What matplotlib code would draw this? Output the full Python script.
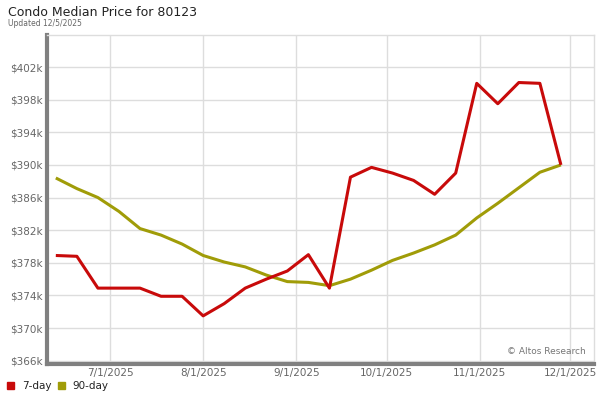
import matplotlib.pyplot as plt
import matplotlib.dates as mdates
import numpy as np
import pandas as pd

# weekly data points
dates = pd.date_range("2025-06-13", "2025-11-28", freq="7D")
seven_day = [378.9, 378.8, 374.9, 374.9, 374.9, 373.9, 373.9, 371.5, 373.0, 374.9,
             376.0, 377.0, 379.0, 374.9, 388.5, 389.7, 389.0, 388.1, 386.4, 389.0,
             400.0, 397.5, 400.1, 400.0, 390.0]
ninety_day = [388.4, 387.1, 386.0, 384.3, 382.2, 381.4, 380.3, 378.9, 378.1, 377.5,
              376.5, 375.7, 375.6, 375.2, 376.0, 377.1, 378.3, 379.2, 380.2, 381.4,
              383.5, 385.3, 387.2, 389.1, 390.0]
y_ticks = [366, 370, 374, 378, 382, 386, 390, 394, 398, 402]
x_ticks = ["2025-07-01", "2025-08-01", "2025-09-01", "2025-10-01", "2025-11-01", "2025-12-01"]

red = "#c80a0a"
olive = "#a09c08"

fig = plt.figure(figsize=(6, 4), dpi=100)
ax = fig.add_axes([0.078, 0.09, 0.912, 0.822])

ax.plot(dates, ninety_day, color=olive, lw=2.2, solid_capstyle="butt")
ax.plot(dates, seven_day, color=red, lw=2.2, solid_capstyle="butt")

ax.set_ylim(365.6, 405.9)
ax.set_xlim(pd.Timestamp("2025-06-10"), pd.Timestamp("2025-12-09"))
ax.set_yticks(y_ticks)
ax.set_yticklabels(["$%dk" % v for v in y_ticks])
ax.set_xticks(pd.to_datetime(x_ticks))
ax.xaxis.set_major_formatter(mdates.DateFormatter("%-m/%-d/%Y"))

ax.grid(True, color="#dddddd", lw=1)
ax.set_axisbelow(True)
ax.tick_params(length=0, labelsize=7.5, colors="#666666", pad=3)

for s in ["top", "right"]:
    ax.spines[s].set_color("#dddddd")
    ax.spines[s].set_linewidth(1)
for s in ["left", "bottom"]:
    ax.spines[s].set_color("#808080")
    ax.spines[s].set_linewidth(3)

fig.text(0.013, 0.968, "Condo Median Price for 80123", fontsize=9, color="#222222", va="center")
fig.text(0.013, 0.94, "Updated 12/5/2025", fontsize=5.5, color="#666666", va="center")
ax.text(0.985, 0.025, "\u00a9 Altos Research", transform=ax.transAxes, fontsize=6.5,
        color="#777777", ha="right", va="bottom")

# legend at bottom left
fig.patches.append(plt.Rectangle((0.012, 0.027), 0.012, 0.018, color=red, transform=fig.transFigure, figure=fig))
fig.text(0.037, 0.034, "7-day", fontsize=7.5, color="#222222", va="center")
fig.patches.append(plt.Rectangle((0.097, 0.027), 0.012, 0.018, color=olive, transform=fig.transFigure, figure=fig))
fig.text(0.12, 0.034, "90-day", fontsize=7.5, color="#222222", va="center")

fig.savefig("out.png", dpi=100)
